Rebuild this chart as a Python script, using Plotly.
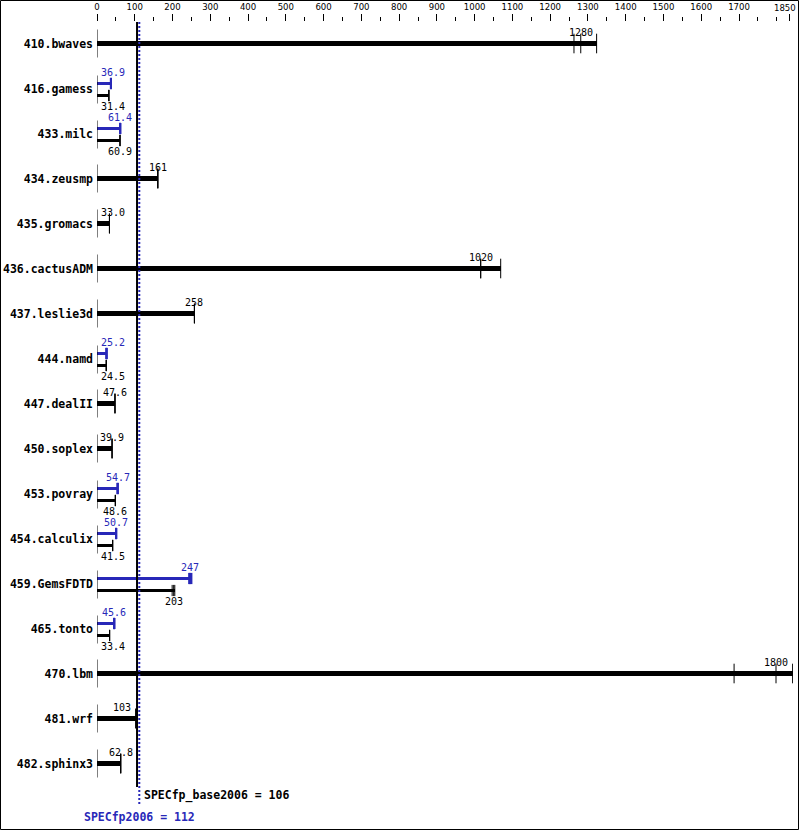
import plotly.graph_objects as go

# ---------------- data ----------------
benchmarks = ["410.bwaves", "416.gamess", "433.milc", "434.zeusmp", "435.gromacs",
              "436.cactusADM", "437.leslie3d", "444.namd", "447.dealII", "450.soplex",
              "453.povray", "454.calculix", "459.GemsFDTD", "465.tonto", "470.lbm",
              "481.wrf", "482.sphinx3"]

# base ratios of the three runs (black)
base_runs = [
    [1263, 1281, 1323],
    [31.4, 31.4, 31.4],
    [60.9, 60.9, 60.9],
    [161, 161, 161],
    [33.0, 33.0, 33.0],
    [1016, 1016, 1069],
    [258, 258, 258],
    [24.5, 24.5, 24.5],
    [47.6, 47.6, 47.6],
    [39.9, 39.9, 39.9],
    [48.6, 48.6, 48.6],
    [41.5, 41.5, 41.5],
    [199, 203, 206],
    [33.4, 33.4, 33.4],
    [1687, 1798, 1842],
    [103, 103, 103],
    [62.8, 62.8, 62.8],
]
base_labels = ["1280", "31.4", "60.9", "161", "33.0", "1020", "258", "24.5", "47.6",
               "39.9", "48.6", "41.5", "203", "33.4", "1800", "103", "62.8"]

# peak ratios (blue), None where peak == base (not shown)
peak_runs = [None, [36.9, 36.9, 36.9], [61.4, 61.4, 61.4], None, None, None, None,
             [25.2, 25.2, 25.2], None, None, [54.7, 54.7, 54.7], [50.7, 50.7, 50.7],
             [244, 247, 250], [45.6, 45.6, 45.6], None, None, None]
peak_labels = [None, "36.9", "61.4", None, None, None, None, "25.2", None, None,
               "54.7", "50.7", "247", "45.6", None, None, None]

base_mean = 106
peak_mean = 112
base_mean_label = "SPECfp_base2006 = 106"
peak_mean_label = "SPECfp2006 = 112"

major_ticks = [0, 100, 200, 300, 400, 500, 600, 700, 800, 900, 1000, 1100, 1200,
               1300, 1400, 1500, 1600, 1700, 1833]
major_text = ["0", "100", "200", "300", "400", "500", "600", "700", "800", "900",
              "1000", "1100", "1200", "1300", "1400", "1500", "1600", "1700", "1850"]
minor_ticks = [50, 150, 250, 350, 450, 550, 650, 750, 850, 950, 1050, 1150, 1250,
               1350, 1450, 1550, 1650, 1750, 1800]

# ---------------- geometry ----------------
FIG_W, FIG_H = 799, 831
ML, MR, MT, MB = 97, 6, 22, 8
PW = FIG_W - ML - MR
PH = FIG_H - MT - MB
XMAX = 1843
PXU = PW / XMAX            # pixels per unit
ROW0 = 43.5                # pixel centre of first row
ROWH = 45.0                # pixels per row

def py2v(py):
    return (py - ROW0) / ROWH

def dpx(px):
    return px / ROWH

BLACK = "#000000"
BLUE = "#2828b8"
MONO = "DejaVu Sans Mono"
NARROW = "Liberation Sans Narrow, DejaVu Sans Condensed, DejaVu Sans Mono"

fig = go.Figure()
shapes = []
annotations = []

n = len(benchmarks)
for i in range(n):
    dual = peak_runs[i] is not None
    if dual:
        yb = i + dpx(7)
        yp = i - dpx(5)
        thick = dpx(3)
        tick_h = 8
        shapes.append(dict(type="line", xref="x", yref="y", x0=0, x1=0,
                           y0=i + dpx(1) - dpx(14), y1=i + dpx(1) + dpx(14),
                           line=dict(color=BLACK, width=1)))
    else:
        yb = i
        thick = dpx(4.5)
        tick_h = 14
        shapes.append(dict(type="line", xref="x", yref="y", x0=0, x1=0,
                           y0=i - dpx(14), y1=i + dpx(14),
                           line=dict(color=BLACK, width=1)))

    # base bar
    fig.add_trace(go.Bar(orientation="h", x=[max(base_runs[i])], y=[yb], base=0,
                         width=thick, marker=dict(color=BLACK, line=dict(width=0)),
                         showlegend=False, hoverinfo="skip"))
    fig.add_trace(go.Scatter(x=base_runs[i], y=[yb] * len(base_runs[i]), mode="markers",
                             marker=dict(symbol="line-ns", size=tick_h,
                                         line=dict(color=BLACK, width=1)),
                             showlegend=False, hoverinfo="skip"))
    if dual:
        fig.add_trace(go.Bar(orientation="h", x=[max(peak_runs[i])], y=[yp], base=0,
                             width=thick, marker=dict(color=BLUE, line=dict(width=0)),
                             showlegend=False, hoverinfo="skip"))
        fig.add_trace(go.Scatter(x=peak_runs[i], y=[yp] * len(peak_runs[i]), mode="markers",
                                 marker=dict(symbol="line-ns", size=tick_h,
                                             line=dict(color=BLUE, width=2)),
                                 showlegend=False, hoverinfo="skip"))

    # labels
    def add_label(text, value, yv, color):
        half = len(text) * 6.02 / 2
        cx = value * PXU
        if cx - half < 2:
            annotations.append(dict(x=0, y=yv, text=text, xanchor="left", xshift=1.5,
                                    showarrow=False, yanchor="middle",
                                    font=dict(family=MONO, size=10, color=color)))
        elif cx - half < base_mean * PXU < cx + half and value < 200:
            annotations.append(dict(x=base_mean, y=yv, text=text, xanchor="right", xshift=-4,
                                    showarrow=False, yanchor="middle",
                                    font=dict(family=MONO, size=10, color=color)))
        else:
            annotations.append(dict(x=value, y=yv, text=text, xanchor="center",
                                    showarrow=False, yanchor="middle",
                                    font=dict(family=MONO, size=10, color=color)))

    med_b = sorted(base_runs[i])[1]
    if dual:
        med_p = sorted(peak_runs[i])[1]
        add_label(peak_labels[i], med_p, yp - dpx(11), BLUE)
        add_label(base_labels[i], med_b, yb + dpx(11), BLACK)
    else:
        add_label(base_labels[i], med_b, yb - dpx(11.5), BLACK)

# mean lines
shapes.append(dict(type="line", xref="x", yref="y", x0=base_mean, x1=base_mean,
                   y0=py2v(22), y1=py2v(787), line=dict(color=BLACK, width=2)))
shapes.append(dict(type="line", xref="x", yref="y", x0=peak_mean, x1=peak_mean,
                   y0=py2v(22), y1=py2v(806), line=dict(color=BLUE, width=2, dash="2px,2px")))

annotations.append(dict(x=base_mean, y=py2v(795), text="<b>%s</b>" % base_mean_label,
                        xanchor="left", xshift=4.5, yanchor="middle", showarrow=False,
                        font=dict(family=MONO, size=11.5, color=BLACK)))
annotations.append(dict(x=peak_mean, y=py2v(817), text="<b>%s</b>" % peak_mean_label,
                        xanchor="center", yanchor="middle", showarrow=False,
                        font=dict(family=MONO, size=11.5, color=BLUE)))

# last top tick label drawn as annotation so it stays inside the frame
tick_text_shown = major_text[:-1] + [""]
annotations.append(dict(x=major_ticks[-1], xref="x", yref="paper", y=1, yshift=15,
                        text=major_text[-1], xanchor="center", yanchor="middle", xshift=-4,
                        showarrow=False, font=dict(family=NARROW, size=9.5, color=BLACK)))

# outer border
def pxx(px):
    return (px - ML) / PW

def pxy(py):
    return 1 - (py - MT) / PH

shapes.append(dict(type="rect", xref="paper", yref="paper",
                   x0=pxx(0.5), x1=pxx(FIG_W - 0.5), y0=pxy(FIG_H - 1.5), y1=pxy(0.5),
                   line=dict(color=BLACK, width=1), fillcolor="rgba(0,0,0,0)", layer="below"))

fig.update_layout(
    width=FIG_W, height=FIG_H,
    margin=dict(l=ML, r=MR, t=MT, b=MB, autoexpand=False),
    paper_bgcolor="white", plot_bgcolor="white",
    barmode="overlay", bargap=0,
    shapes=shapes, annotations=annotations,
    showlegend=False,
    xaxis=dict(side="top", range=[0, XMAX], showgrid=False, zeroline=False, showline=False,
               tickmode="array", tickvals=major_ticks, ticktext=tick_text_shown,
               ticks="outside", ticklen=7, tickwidth=1, tickcolor=BLACK,
               ticklabeloverflow="allow",
               tickfont=dict(family=NARROW, size=9.5, color=BLACK),
               minor=dict(tickmode="array", tickvals=minor_ticks, ticks="outside",
                          ticklen=4, tickwidth=1, tickcolor=BLACK, showgrid=False),
               fixedrange=True, automargin=False),
    yaxis=dict(range=[py2v(FIG_H - MB), py2v(MT)], showgrid=False, zeroline=False,
               showline=False, tickmode="array", tickvals=list(range(n)),
               ticktext=benchmarks, ticks="", ticklen=0, ticklabelstandoff=3,
               tickfont=dict(family=MONO, size=11.5, color=BLACK, weight="bold"),
               fixedrange=True, automargin=False),
)

fig.write_html("out.html", config={"displayModeBar": False},
               post_script="document.body.style.margin='0';document.body.style.overflow='hidden';")
